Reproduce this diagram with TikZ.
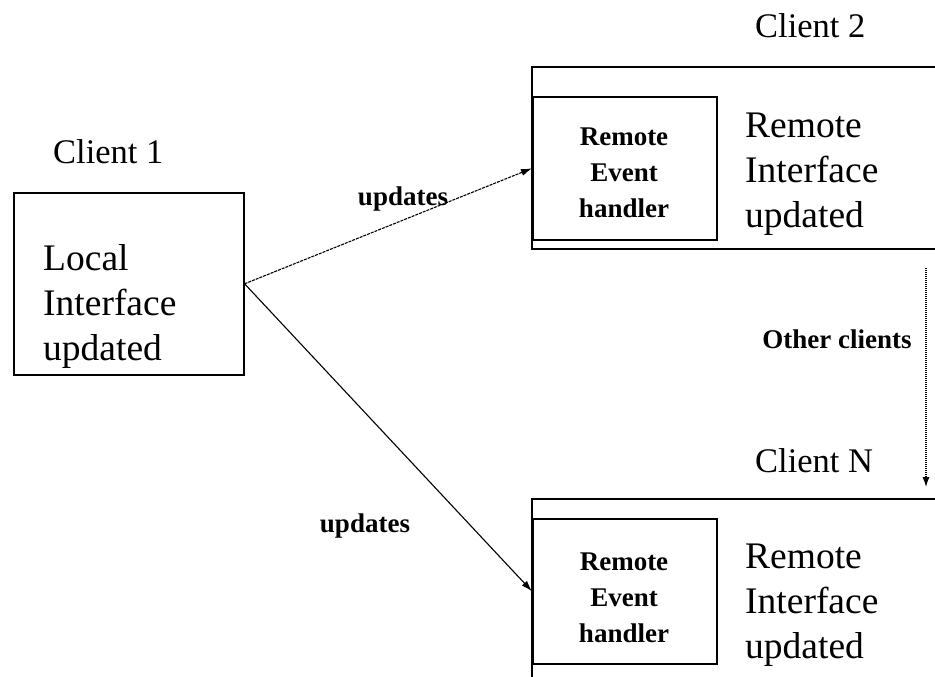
\documentclass[tikz,border=0pt]{standalone}
\usepackage{fontspec}
\setmainfont{Liberation Serif}
\usetikzlibrary{arrows.meta}
\begin{document}
\begin{tikzpicture}[x=1pt,y=-1pt,
  frame/.style={draw, line width=1.6pt},
  boxnode/.style={draw, line width=1.6pt, anchor=north west, inner sep=0pt},
  bigtxt/.style={font=\fontsize{37.5}{45}\selectfont, align=left, anchor=base west, inner sep=0pt},
  clientlbl/.style={font=\fontsize{34.5}{40}\selectfont, anchor=base west, inner sep=0pt},
  smalltxt/.style={font=\bfseries\fontsize{27}{36}\selectfont, align=center, anchor=base, inner sep=0pt},
  conn/.style={line width=1.1pt, -{Latex[length=11pt,width=7pt]}}
]
\useasboundingbox[fill=white] (0,0) rectangle (935,677);

% Client 1 (multi-line texts are placed by the baseline of their last line)
\node[clientlbl] (lbl1) at (53,163) {Client 1};
\node[boxnode, minimum width=230pt, minimum height=182pt] (c1) at (13,192) {};
\node[bigtxt] (t1) at (43,360) {Local\\Interface\\updated};

% Client 2
\node[clientlbl] (lbl2) at (755,38) {Client 2};
\draw[frame] (935,67) -- (532,67) -- (532,249) -- (935,249);
\node[boxnode, minimum width=184pt, minimum height=143pt] (h2) at (532,96) {};
\node[smalltxt] (s2) at (624,217) {Remote\\Event\\handler};
\node[bigtxt] (t2) at (745,227) {Remote\\Interface\\updated};

% Client N
\node[clientlbl] (lblN) at (755,472) {Client N};
\draw[frame] (935,499) -- (532,499) -- (532,677);
\node[boxnode, minimum width=184pt, minimum height=145pt] (hN) at (532,518) {};
\node[smalltxt] (sN) at (624,642) {Remote\\Event\\handler};
\node[bigtxt] (tN) at (745,658) {Remote\\Interface\\updated};

% update messages
\draw[conn, dash pattern=on 3pt off 1pt] (c1.east) -- (h2.west);
\draw[conn] (c1.east) -- (hN.west);
\node[smalltxt] (u1) at (403,205) {updates};
\node[smalltxt] (u2) at (365,532) {updates};

% propagation to the remaining clients
\coordinate (o1) at (926,268);
\coordinate (o2) at (926,487);
\draw[line width=1.1pt, dash pattern=on 1.2pt off 0.8pt, -{Latex[length=10pt,width=7pt]}] (o1) -- (o2);
\node[smalltxt] (oc) at (837,348) {Other clients};
\end{tikzpicture}
\end{document}
